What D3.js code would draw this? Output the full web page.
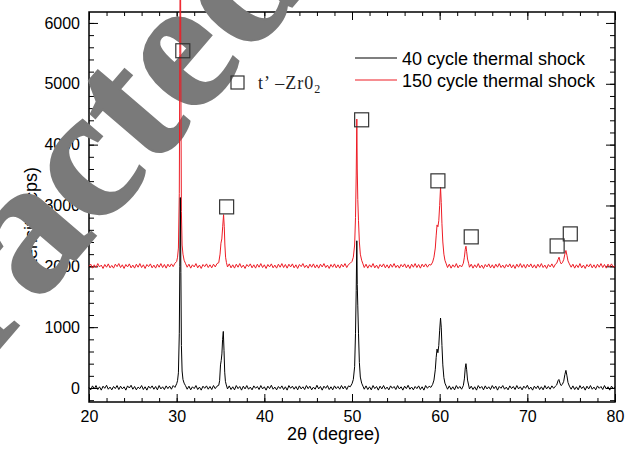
<!DOCTYPE html>
<html>
<head>
<meta charset="utf-8">
<script src="https://cdn.jsdelivr.net/npm/d3@7"></script>
<style>
  body { margin: 0; background: #fff; }
  svg { display: block; }
</style>
</head>
<body>
<svg></svg>
<script>
// 40 cycle thermal shock, [2theta, counts]
let cycle40 = [
  [20.0,10],[20.2,-30],[20.4,35],[20.6,-15],[20.8,40],[21.0,-25],[21.2,20],[21.4,-35],[21.6,30],[21.8,-5],
  [22.0,45],[22.2,-20],[22.4,15],[22.6,-30],[22.8,25],[23.0,-10],[23.2,40],[23.4,-25],[23.6,30],[23.8,-15],
  [24.0,20],[24.2,-35],[24.4,35],[24.6,0],[24.8,45],[25.0,-20],[25.2,25],[25.4,-30],[25.6,15],[25.8,-10],
  [26.0,40],[26.2,-25],[26.4,20],[26.6,-35],[26.8,30],[27.0,-5],[27.2,35],[27.4,-20],[27.6,25],[27.8,-30],
  [28.0,40],[28.2,-15],[28.4,20],[28.6,-25],[28.8,35],[29.0,-10],[29.2,30],[29.4,-20],[29.6,40],[29.8,10],
  [30.0,70],[30.1,120],[30.2,250],[30.3,900],[30.36,2000],[30.42,3130],[30.48,1900],[30.54,700],[30.62,280],[30.72,140],
  [30.85,80],[31.0,40],[31.2,-20],[31.4,30],[31.6,-30],[31.8,20],[32.0,-10],[32.2,40],[32.4,-25],[32.6,15],
  [32.8,-35],[33.0,30],[33.2,-5],[33.4,35],[33.6,-20],[33.8,25],[34.0,-25],[34.2,40],[34.4,-10],[34.6,30],
  [34.8,45],[34.9,120],[35.0,380],[35.08,450],[35.16,560],[35.24,800],[35.32,930],[35.4,620],[35.48,260],[35.56,110],
  [35.66,50],[35.8,-15],[36.0,35],[36.2,-25],[36.4,20],[36.6,-30],[36.8,40],[37.0,-10],[37.2,25],[37.4,-35],
  [37.6,30],[37.8,-15],[38.0,40],[38.2,-20],[38.4,15],[38.6,-30],[38.8,35],[39.0,-5],[39.2,25],[39.4,-25],
  [39.6,40],[39.8,-15],[40.0,20],[40.2,-35],[40.4,30],[40.6,-10],[40.8,45],[41.0,-20],[41.2,15],[41.4,-30],
  [41.6,25],[41.8,-10],[42.0,35],[42.2,-25],[42.4,20],[42.6,-35],[42.8,40],[43.0,-5],[43.2,30],[43.4,-20],
  [43.6,25],[43.8,-30],[44.0,35],[44.2,-15],[44.4,20],[44.6,-25],[44.8,40],[45.0,-10],[45.2,30],[45.4,-30],
  [45.6,15],[45.8,-20],[46.0,45],[46.2,-15],[46.4,25],[46.6,-35],[46.8,30],[47.0,-5],[47.2,40],[47.4,-25],
  [47.6,20],[47.8,-30],[48.0,35],[48.2,-10],[48.4,25],[48.6,-20],[48.8,40],[49.0,-15],[49.2,30],[49.4,-25],
  [49.6,35],[49.8,20],[50.0,70],[50.15,140],[50.3,350],[50.4,900],[50.48,1600],[50.55,2420],[50.6,1700],[50.66,1350],
  [50.74,900],[50.84,420],[50.95,180],[51.1,80],[51.25,30],[51.4,-20],[51.6,35],[51.8,-25],[52.0,20],[52.2,-30],
  [52.4,40],[52.6,-10],[52.8,25],[53.0,-35],[53.2,30],[53.4,-15],[53.6,40],[53.8,-20],[54.0,15],[54.2,-30],
  [54.4,35],[54.6,-5],[54.8,25],[55.0,-25],[55.2,40],[55.4,-15],[55.6,20],[55.8,-35],[56.0,30],[56.2,-10],
  [56.4,45],[56.6,-20],[56.8,15],[57.0,-30],[57.2,25],[57.4,-10],[57.6,35],[57.8,-25],[58.0,20],[58.2,-35],
  [58.4,40],[58.6,-5],[58.8,30],[59.0,10],[59.2,60],[59.35,130],[59.5,300],[59.6,500],[59.7,640],[59.8,580],
  [59.9,700],[60.0,950],[60.1,1150],[60.18,1000],[60.26,700],[60.36,380],[60.48,170],[60.6,80],[60.75,30],[60.9,-20],
  [61.1,35],[61.3,-25],[61.5,20],[61.7,-30],[61.9,40],[62.1,-10],[62.3,25],[62.5,-20],[62.7,40],[62.82,150],
  [62.92,330],[63.0,400],[63.08,300],[63.18,130],[63.3,50],[63.4,-15],[63.6,30],[63.8,-25],[64.0,20],[64.2,-35],
  [64.4,40],[64.6,-5],[64.8,25],[65.0,-30],[65.2,35],[65.4,-15],[65.6,20],[65.8,-25],[66.0,40],[66.2,-10],
  [66.4,30],[66.6,-35],[66.8,25],[67.0,-5],[67.2,40],[67.4,-20],[67.6,15],[67.8,-30],[68.0,35],[68.2,-10],
  [68.4,25],[68.6,-25],[68.8,40],[69.0,-15],[69.2,20],[69.4,-30],[69.6,30],[69.8,-5],[70.0,45],[70.2,-20],
  [70.4,15],[70.6,-35],[70.8,30],[71.0,-10],[71.2,35],[71.4,-25],[71.6,20],[71.8,-30],[72.0,40],[72.2,-15],
  [72.4,25],[72.6,-20],[72.8,35],[73.0,-5],[73.2,30],[73.35,50],[73.5,120],[73.6,140],[73.72,80],[73.85,40],
  [74.0,60],[74.15,110],[74.28,220],[74.4,290],[74.52,200],[74.64,90],[74.8,30],[75.0,-20],[75.2,35],[75.4,-25],
  [75.6,20],[75.8,-30],[76.0,40],[76.2,-10],[76.4,25],[76.6,-35],[76.8,30],[77.0,-15],[77.2,40],[77.4,-20],
  [77.6,15],[77.8,-30],[78.0,35],[78.2,-5],[78.4,25],[78.6,-25],[78.8,40],[79.0,-15],[79.2,20],[79.4,-35],
  [79.6,30],[79.8,-10],[80.0,20]
];

// 150 cycle thermal shock, [2theta, counts]
let cycle150 = [
  [20.0,2000],[20.2,2035],[20.4,1970],[20.6,2025],[20.8,1980],[21.0,2045],[21.2,1990],[21.4,2020],[21.6,1965],[21.8,2030],
  [22.0,1985],[22.2,2040],[22.4,1975],[22.6,2015],[22.8,1970],[23.0,2035],[23.2,1995],[23.4,2045],[23.6,1980],[23.8,2025],
  [24.0,1965],[24.2,2030],[24.4,1990],[24.6,2040],[24.8,1975],[25.0,2020],[25.2,1970],[25.4,2035],[25.6,1985],[25.8,2045],
  [26.0,1980],[26.2,2025],[26.4,1965],[26.6,2030],[26.8,1995],[27.0,2040],[27.2,1975],[27.4,2020],[27.6,1970],[27.8,2035],
  [28.0,1985],[28.2,2045],[28.4,1980],[28.6,2030],[28.8,1970],[29.0,2035],[29.2,1990],[29.4,2040],[29.6,1995],[29.8,2050],
  [30.0,2080],[30.1,2150],[30.2,2300],[30.3,3200],[30.36,5500],[30.42,8000],[30.48,5000],[30.54,2900],[30.62,2350],[30.72,2200],
  [30.85,2100],[31.0,2050],[31.2,1985],[31.4,2035],[31.6,1970],[31.8,2025],[32.0,1990],[32.2,2045],[32.4,1975],[32.6,2020],
  [32.8,1965],[33.0,2030],[33.2,1995],[33.4,2040],[33.6,1980],[33.8,2025],[34.0,1975],[34.2,2035],[34.4,1990],[34.6,2045],
  [34.8,2060],[34.95,2200],[35.05,2380],[35.15,2450],[35.25,2650],[35.35,2850],[35.43,2650],[35.5,2350],[35.58,2150],[35.68,2060],
  [35.8,1990],[36.0,2040],[36.2,1975],[36.4,2025],[36.6,1970],[36.8,2035],[37.0,1985],[37.2,2045],[37.4,1980],[37.6,2020],
  [37.8,1965],[38.0,2030],[38.2,1995],[38.4,2040],[38.6,1975],[38.8,2025],[39.0,1970],[39.2,2035],[39.4,1985],[39.6,2045],
  [39.8,1980],[40.0,2025],[40.2,1965],[40.4,2030],[40.6,1990],[40.8,2040],[41.0,1975],[41.2,2020],[41.4,1970],[41.6,2035],
  [41.8,1985],[42.0,2045],[42.2,1980],[42.4,2030],[42.6,1970],[42.8,2035],[43.0,1990],[43.2,2040],[43.4,1975],[43.6,2025],
  [43.8,1965],[44.0,2030],[44.2,1995],[44.4,2045],[44.6,1980],[44.8,2020],[45.0,1970],[45.2,2035],[45.4,1985],[45.6,2040],
  [45.8,1975],[46.0,2025],[46.2,1970],[46.4,2035],[46.6,1990],[46.8,2045],[47.0,1980],[47.2,2020],[47.4,1965],[47.6,2030],
  [47.8,1985],[48.0,2040],[48.2,1975],[48.4,2025],[48.6,1970],[48.8,2035],[49.0,1990],[49.2,2045],[49.4,1980],[49.6,2030],
  [49.8,2050],[50.0,2080],[50.15,2150],[50.3,2350],[50.4,2800],[50.48,3500],[50.55,4420],[50.6,3600],[50.66,3100],[50.74,2750],
  [50.84,2400],[50.95,2200],[51.1,2100],[51.25,2040],[51.4,1980],[51.6,2035],[51.8,1970],[52.0,2025],[52.2,1985],[52.4,2045],
  [52.6,1975],[52.8,2020],[53.0,1965],[53.2,2030],[53.4,1990],[53.6,2040],[53.8,1975],[54.0,2025],[54.2,1970],[54.4,2035],
  [54.6,1985],[54.8,2045],[55.0,1980],[55.2,2020],[55.4,1970],[55.6,2030],[55.8,1990],[56.0,2040],[56.2,1975],[56.4,2025],
  [56.6,1965],[56.8,2035],[57.0,1985],[57.2,2045],[57.4,1980],[57.6,2030],[57.8,1970],[58.0,2035],[58.2,1990],[58.4,2040],
  [58.6,1985],[58.8,2030],[59.0,2020],[59.2,2070],[59.35,2150],[59.5,2300],[59.6,2500],[59.7,2680],[59.8,2650],[59.9,2750],
  [60.0,3000],[60.1,3300],[60.18,3050],[60.26,2700],[60.36,2400],[60.48,2200],[60.6,2100],[60.75,2040],[60.9,1980],[61.1,2035],
  [61.3,1970],[61.5,2025],[61.7,1985],[61.9,2045],[62.1,1975],[62.3,2020],[62.5,1990],[62.7,2050],[62.82,2150],[62.92,2280],
  [63.0,2330],[63.08,2240],[63.18,2120],[63.3,2050],[63.4,1985],[63.6,2035],[63.8,1970],[64.0,2025],[64.2,1980],[64.4,2045],
  [64.6,1975],[64.8,2020],[65.0,1965],[65.2,2030],[65.4,1990],[65.6,2040],[65.8,1975],[66.0,2025],[66.2,1970],[66.4,2035],
  [66.6,1985],[66.8,2045],[67.0,1980],[67.2,2020],[67.4,1970],[67.6,2030],[67.8,1990],[68.0,2040],[68.2,1975],[68.4,2025],
  [68.6,1965],[68.8,2035],[69.0,1985],[69.2,2045],[69.4,1980],[69.6,2030],[69.8,1970],[70.0,2035],[70.2,1990],[70.4,2040],
  [70.6,1975],[70.8,2025],[71.0,1970],[71.2,2035],[71.4,1985],[71.6,2045],[71.8,1980],[72.0,2020],[72.2,1965],[72.4,2030],
  [72.6,1990],[72.8,2040],[73.0,1980],[73.2,2035],[73.35,2050],[73.5,2110],[73.62,2150],[73.74,2080],[73.86,2040],[74.0,2060],
  [74.15,2110],[74.28,2200],[74.4,2260],[74.52,2180],[74.64,2090],[74.8,2040],[75.0,1985],[75.2,2035],[75.4,1970],[75.6,2025],
  [75.8,1980],[76.0,2045],[76.2,1975],[76.4,2020],[76.6,1965],[76.8,2030],[77.0,1990],[77.2,2040],[77.4,1975],[77.6,2025],
  [77.8,1970],[78.0,2035],[78.2,1985],[78.4,2045],[78.6,1980],[78.8,2030],[79.0,1970],[79.2,2035],[79.4,1990],[79.6,2040],
  [79.8,1985],[80.0,2010]
];

// t'-ZrO2 peak markers
let markerTheta = [30.7, 35.7, 51.1, 59.8, 63.6, 73.4, 74.9];
let markerCounts = [5543, 2977, 4408, 3405, 2484, 2335, 2533];

let xTicks = [20, 30, 40, 50, 60, 70, 80];
let xMinor = d3.range(20, 80.1, 2);
let yTicks = [0, 1000, 2000, 3000, 4000, 5000, 6000];
let yMinor = d3.range(-200, 6101, 200);

let seriesNames = ["40 cycle thermal shock", "150 cycle thermal shock"];
let seriesColors = ["#000000", "#ee1c25"];

let width = 627;
let height = 449;
let pLeft = 89, pRight = 615, pTop = 12, pBottom = 402;

let svg = d3.select("svg").attr("width", width).attr("height", height);

let xScale = d3.scaleLinear().domain([20, 80]).range([pLeft, pRight]);
let yScale = d3.scaleLinear().domain([-230, 6180]).range([pBottom, pTop]);

let font = "'Liberation Sans', Arial, sans-serif";
let serif = "'Liberation Serif', 'Times New Roman', serif";

let drawAxes = () => {
    // bottom
    svg.append("g").attr("transform", "translate(0," + pBottom + ")")
        .call(d3.axisBottom(xScale).tickValues(xMinor).tickFormat("").tickSize(-4));
    svg.append("g").attr("transform", "translate(0," + pBottom + ")")
        .call(d3.axisBottom(xScale).tickValues(xTicks).tickFormat(d3.format("d")).tickSize(-8).tickPadding(9));
    // top
    svg.append("g").attr("transform", "translate(0," + pTop + ")")
        .call(d3.axisTop(xScale).tickValues(xMinor).tickFormat("").tickSize(-4));
    svg.append("g").attr("transform", "translate(0," + pTop + ")")
        .call(d3.axisTop(xScale).tickValues(xTicks).tickFormat("").tickSize(-8));
    // left
    svg.append("g").attr("transform", "translate(" + pLeft + ",0)")
        .call(d3.axisLeft(yScale).tickValues(yMinor).tickFormat("").tickSize(-5));
    svg.append("g").attr("transform", "translate(" + pLeft + ",0)")
        .call(d3.axisLeft(yScale).tickValues(yTicks).tickFormat(d3.format("d")).tickSize(-9).tickPadding(9));
    // right
    svg.append("g").attr("transform", "translate(" + pRight + ",0)")
        .call(d3.axisRight(yScale).tickValues(yMinor).tickFormat("").tickSize(-5));
    svg.append("g").attr("transform", "translate(" + pRight + ",0)")
        .call(d3.axisRight(yScale).tickValues(yTicks).tickFormat("").tickSize(-9));

    svg.selectAll(".domain").remove();
    svg.selectAll(".tick line").attr("stroke", "#000").attr("stroke-width", 1);
    svg.selectAll(".tick text").attr("font-family", font).attr("font-size", 16).attr("fill", "#000");

    svg.append("rect")
        .attr("x", pLeft).attr("y", pTop)
        .attr("width", pRight - pLeft).attr("height", pBottom - pTop)
        .attr("fill", "none").attr("stroke", "#000").attr("stroke-width", 1.5);

    svg.append("text")
        .attr("x", 287).attr("y", 440)
        .attr("font-family", font).attr("font-size", 18)
        .text("2θ (degree)");

    svg.append("text")
        .attr("transform", "translate(37,167) rotate(-90)")
        .attr("text-anchor", "end")
        .attr("font-family", font).attr("font-size", 18)
        .text("Intensity (cps)");
}

let drawWatermark = () => {
    let fs = 190;
    let wm = svg.append("text")
        .attr("font-family", serif)
        .attr("font-weight", "bold")
        .attr("font-size", fs)
        .attr("fill", "#7a7a7a")
        .attr("stroke", "#7a7a7a")
        .attr("stroke-width", 2)
        .text("Retracted");
    // fit a rotation + scale so the letters a, c, t, e sit where the reference shows them
    let idx = [4, 5, 6, 7];
    let mid = [0.23, 0.23, 0.28, 0.23];
    let target = [[36, 240], [89, 177], [132, 110], [188, 63]];
    let src = idx.map((k, j) => {
        let e = wm.node().getExtentOfChar(k);
        return [e.x + e.width / 2, -mid[j] * fs];
    });
    let px = d3.mean(src, (d) => d[0]), py = d3.mean(src, (d) => d[1]);
    let qx = d3.mean(target, (d) => d[0]), qy = d3.mean(target, (d) => d[1]);
    let re = 0, im = 0, nn = 0;
    src.forEach((p, j) => {
        let ax = p[0] - px, ay = p[1] - py;
        let bx = target[j][0] - qx, by = target[j][1] - qy;
        re += bx * ax + by * ay;
        im += by * ax - bx * ay;
        nn += ax * ax + ay * ay;
    });
    re /= nn; im /= nn;
    let sc = Math.sqrt(re * re + im * im);
    let ang = Math.atan2(im, re) * 180 / Math.PI;
    let tx = qx - (re * px - im * py);
    let ty = qy - (im * px + re * py);
    wm.attr("transform", "translate(" + tx + "," + ty + ") rotate(" + ang + ") scale(" + sc + ")");
}

let drawLines = () => {
    let line = d3.line().x((d) => xScale(d[0])).y((d) => yScale(d[1]));
    svg.append("path")
        .datum(cycle150)
        .attr("d", line)
        .attr("fill", "none")
        .attr("stroke", seriesColors[1])
        .attr("stroke-width", 1)
        .attr("stroke-linejoin", "round");
    svg.append("path")
        .datum(cycle40)
        .attr("d", line)
        .attr("fill", "none")
        .attr("stroke", seriesColors[0])
        .attr("stroke-width", 1)
        .attr("stroke-linejoin", "round");
}

let drawMarkers = () => {
    let s = 14;
    svg.selectAll(".marker")
        .data(markerTheta)
        .enter()
        .append("rect")
        .attr("class", "marker")
        .attr("x", (d) => xScale(d) - s / 2)
        .attr("y", (d, i) => yScale(markerCounts[i]) - s / 2)
        .attr("width", s).attr("height", s)
        .attr("fill", "none").attr("stroke", "#333").attr("stroke-width", 1.2);
}

let drawLegend = () => {
    seriesNames.forEach((name, i) => {
        let y = 58 + i * 22;
        svg.append("line")
            .attr("x1", 355).attr("x2", 397).attr("y1", y).attr("y2", y)
            .attr("stroke", seriesColors[i]).attr("stroke-width", 1.2);
        svg.append("text")
            .attr("x", 402).attr("y", y + 7)
            .attr("font-family", font).attr("font-size", 18)
            .text(name);
    });

    svg.append("rect")
        .attr("x", 231).attr("y", 76).attr("width", 13).attr("height", 13)
        .attr("fill", "none").attr("stroke", "#333").attr("stroke-width", 1.2);
    let t = svg.append("text")
        .attr("x", 258).attr("y", 89)
        .attr("font-family", serif)
        .attr("font-size", 18).attr("letter-spacing", 1).attr("fill", "#222");
    t.append("tspan").text("t’ –Zr0");
    t.append("tspan").attr("font-size", 12).attr("dy", 4).text("2");
}

drawAxes();
drawWatermark();
drawLines();
drawMarkers();
drawLegend();
</script>
</body>
</html>
